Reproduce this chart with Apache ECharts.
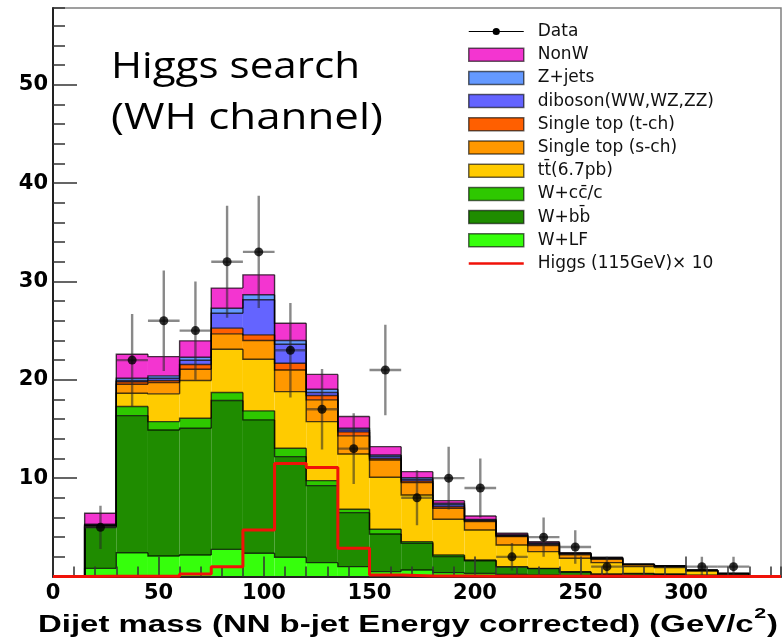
<!DOCTYPE html>
<html>
<head>
<meta charset="utf-8">
<script src="https://cdn.jsdelivr.net/npm/echarts@6/dist/echarts.min.js"></script>
<style>
  html, body { margin: 0; padding: 0; background: #fff; }
  #chart { width: 783px; height: 642px; }
</style>
</head>
<body>
<div id="chart"></div>
<script>
// Dijet mass bins: low edges in GeV/c^2, each 15 GeV wide
const binLow = [15, 30, 45, 60, 75, 90, 105, 120, 135, 150, 165, 180, 195, 210, 225, 240, 255, 270, 285, 300, 315, 330];
const binWidth = 15;
const massMax = 345;

// Expected events per bin, one array per background (bottom of the stack first)
const wLF     = [0.83, 2.42, 2.09, 2.19, 2.76, 2.36, 1.95, 1.41, 1.00, 0.50, 0.66, 0.39, 0.30, 0.20, 0.12, 0.08, 0.05, 0.05, 0.04, 0.02, 0.01, 0.00];
const wBB     = [4.17, 13.94, 12.81, 12.88, 15.13, 13.56, 10.24, 7.83, 5.49, 3.82, 2.71, 1.63, 1.30, 0.75, 0.68, 0.37, 0.17, 0.22, 0.18, 0.08, 0.04, 0.01];
const wCC     = [0.05, 0.92, 0.85, 1.02, 0.81, 0.92, 0.85, 0.51, 0.34, 0.48, 0.17, 0.17, 0.08, 0.05, 0.03, 0.04, 0.03, 0.03, 0.03, 0.02, 0.01, 0.00];
const ttbar   = [0.07, 1.35, 2.82, 3.83, 4.41, 5.25, 5.76, 6.00, 5.62, 5.29, 4.75, 3.63, 3.05, 2.20, 1.70, 1.36, 1.16, 0.70, 0.67, 0.43, 0.16, 0.02];
const stopS   = [0.05, 0.92, 1.15, 1.15, 1.56, 1.90, 2.20, 2.21, 1.85, 1.76, 1.25, 1.12, 0.85, 0.85, 0.62, 0.35, 0.34, 0.18, 0.10, 0.06, 0.06, 0.01];
const stopT   = [0.03, 0.25, 0.20, 0.48, 0.58, 0.58, 0.68, 0.44, 0.40, 0.15, 0.17, 0.16, 0.08, 0.07, 0.10, 0.07, 0.07, 0.03, 0.03, 0.02, 0.02, 0.005];
const diboson = [0.05, 0.12, 0.24, 0.44, 1.52, 3.56, 1.94, 0.30, 0.20, 0.20, 0.17, 0.20, 0.06, 0.06, 0.10, 0.06, 0.05, 0.02, 0.02, 0.01, 0.01, 0.005];
const zJets   = [0.06, 0.24, 0.24, 0.30, 0.51, 0.51, 0.37, 0.34, 0.17, 0.16, 0.17, 0.14, 0.09, 0.06, 0.07, 0.04, 0.04, 0.02, 0.02, 0.01, 0.01, 0.00];
const nonW    = [1.12, 2.44, 1.96, 1.67, 2.04, 2.03, 1.76, 1.51, 1.19, 0.84, 0.61, 0.27, 0.34, 0.15, 0.12, 0.05, 0.04, 0.02, 0.01, 0.01, 0.00, 0.00];

// Observed events and their uncertainties
const dataCounts = [5, 22, 26, 25, 32, 33, 23, 17, 13, 21, 8, 10, 9, 2, 4, 3, 1, 0, 0, 1, 1, 0];
const dataErrors = [2.2, 4.7, 5.1, 5.0, 5.7, 5.7, 4.8, 4.1, 3.6, 4.6, 2.8, 3.2, 3.0, 1.4, 2.0, 1.7, 1.0, 0, 0, 1.0, 1.0, 0];

// Higgs signal (115 GeV) scaled by 10
const higgsX10 = [0.02, 0.02, 0.03, 0.25, 1.0, 4.73, 11.5, 11.07, 2.87, 0.15, 0.05, 0.04, 0.03, 0.03, 0.02, 0.02, 0.02, 0.01, 0.01, 0.01, 0.01, 0.01];

const OUTLINE = 'rgba(0,0,0,0.72)';

// Stack order, bottom to top
const stack = [
  { name: 'W+LF',               values: wLF,     color: '#36ff0c' },
  { name: 'W+bb\u0304',         values: wBB,     color: '#1f8c00' },
  { name: 'W+cc\u0304/c',       values: wCC,     color: '#2ec800' },
  { name: 'tt\u0304(6.7pb)',    values: ttbar,   color: '#ffcb00' },
  { name: 'Single top (s-ch)',  values: stopS,   color: '#ff9800' },
  { name: 'Single top (t-ch)',  values: stopT,   color: '#ff5f00' },
  { name: 'diboson(WW,WZ,ZZ)',  values: diboson, color: '#6464ff' },
  { name: 'Z+jets',             values: zJets,   color: '#6499ff' },
  { name: 'NonW',               values: nonW,    color: '#f335d0' }
];
const higgsName = 'Higgs (115GeV)\u00d7 10';
const higgsColor = '#f01208';

// cumulative bounds of each layer
let running = binLow.map(() => 0);
const stackSeries = stack.map((comp) => {
  const lower = running.slice();
  const upper = running.map((v, j) => v + comp.values[j]);
  running = upper;
  const data = binLow.map((x, j) => [
    x, x + binWidth, lower[j], upper[j],
    j > 0 ? upper[j - 1] : 0,
    j === binLow.length - 1 ? 1 : 0
  ]);
  return {
    type: 'custom',
    name: comp.name,
    color: comp.color,
    itemStyle: { color: comp.color },
    clip: true,
    encode: { x: [0, 1], y: [2, 3] },
    data: data,
    renderItem: function (params, api) {
      const x0 = api.value(0), x1 = api.value(1);
      const lo = api.value(2), hi = api.value(3);
      const prev = api.value(4), last = api.value(5);
      const a = api.coord([x0, hi]);
      const b = api.coord([x1, lo]);
      const p = api.coord([x0, prev]);
      const base = api.coord([x1, 0]);
      const children = [
        { type: 'rect', z2: 0,
          shape: { x: a[0], y: a[1], width: b[0] - a[0], height: b[1] - a[1] },
          style: { fill: comp.color } },
        { type: 'polyline', z2: 10,
          shape: { points: [p, a, [b[0], a[1]]] },
          style: { stroke: OUTLINE, lineWidth: 1.4, fill: null } }
      ];
      if (last) {
        children.push({ type: 'line', z2: 10,
          shape: { x1: b[0], y1: a[1], x2: b[0], y2: base[1] },
          style: { stroke: OUTLINE, lineWidth: 1.4 } });
      }
      return { type: 'group', children: children };
    }
  };
});

// data points with error bars (empty bins are not drawn)
const dataBars = [];
const dataPoints = [];
binLow.forEach((x, j) => {
  if (dataCounts[j] > 0) {
    dataBars.push([x, x + binWidth, dataCounts[j], dataErrors[j]]);
    dataPoints.push([x + binWidth / 2, dataCounts[j]]);
  }
});

const higgsLine = [[0, 0]].concat(binLow.map((x, j) => [x, higgsX10[j]]));
higgsLine.push([massMax, higgsX10[higgsX10.length - 1]]);

// text measurement for the stretched titles
const measureCtx = document.createElement('canvas').getContext('2d');
function textWidth(str, font) { measureCtx.font = font; return measureCtx.measureText(str).width; }

const titleFont = '37px "Open Sans"';
const titleLine1 = 'Higgs search';
const titleLine2 = '(WH channel)';
const sx1 = 249 / textWidth(titleLine1, titleFont);
const sx2 = 272 / textWidth(titleLine2, titleFont);

const axisFont = 'bold 23px "Liberation Sans"';
const supFont = 'bold 15px "Liberation Sans"';
const axisMain = 'Dijet mass (NN b-jet Energy corrected) (GeV/c';
const wMain = textWidth(axisMain, axisFont);
const wSup = textWidth('2', supFont);
const wClose = textWidth(')', axisFont);
const axisScale = 740 / (wMain + wSup + wClose + 1);

const labelStyle = { fontFamily: 'DejaVu Sans', fontWeight: 'bold', fontSize: 21, color: '#000' };
const tickStyle = { color: '#333', width: 1.5 };

const legendData = [
  { name: 'Data', icon: 'path://M0,3.1H55V4.3H0Z M23.9,3.7A3.6,3.6 0 1 1 31.1,3.7A3.6,3.6 0 1 1 23.9,3.7Z',
    itemStyle: { color: '#000', borderWidth: 0 } }
];
stack.slice().reverse().forEach((comp) => {
  legendData.push({ name: comp.name, icon: 'rect',
    itemStyle: { color: comp.color, borderColor: 'rgba(0,0,0,0.6)', borderWidth: 1.5 } });
});
legendData.push({ name: higgsName, icon: 'path://M0,0H55V2.6H0Z',
  itemStyle: { color: higgsColor, borderWidth: 0 } });

const chart = echarts.init(document.getElementById('chart'), null, { renderer: 'canvas' });
chart.setOption({
  animation: false,
  backgroundColor: '#fff',
  grid: {
    left: 53, top: 8, width: 728, height: 568.5,
    show: true, borderColor: '#808080', borderWidth: 1.5,
    containLabel: false, outerBoundsMode: 'none'
  },
  legend: {
    orient: 'vertical', left: 463, top: 18,
    itemWidth: 55, itemHeight: 13, itemGap: 6.2,
    symbolKeepAspect: true,
    selectedMode: false,
    textStyle: { fontFamily: 'DejaVu Sans', fontSize: 17, color: '#111', lineHeight: 14, padding: [0, 0, 0, 9] },
    data: legendData
  },
  xAxis: [
    {
      type: 'value', min: 0, max: massMax, interval: 50, z: 10,
      axisLine: { show: true, onZero: false, lineStyle: { color: '#222', width: 2 } },
      axisTick: { show: true, inside: true, length: 20, lineStyle: tickStyle },
      axisLabel: Object.assign({ margin: 7, showMaxLabel: false }, labelStyle),
      splitLine: { show: false }
    },
    {
      type: 'value', min: 0, max: massMax, interval: 10, position: 'bottom', z: 10,
      axisLine: { show: false },
      axisTick: { show: true, inside: true, length: 10, lineStyle: tickStyle },
      axisLabel: { show: false },
      splitLine: { show: false }
    }
  ],
  yAxis: [
    {
      type: 'value', min: 0, max: 57.8, interval: 10, z: 10,
      axisLine: { show: true, onZero: false, lineStyle: { color: '#222', width: 2 } },
      axisTick: { show: true, inside: true, length: 24, lineStyle: tickStyle },
      axisLabel: Object.assign({ margin: 5, showMinLabel: false, showMaxLabel: false }, labelStyle),
      splitLine: { show: false }
    },
    {
      type: 'value', min: 0, max: 57.8, interval: 2, position: 'left', z: 10,
      axisLine: { show: false },
      axisTick: { show: true, inside: true, length: 12, lineStyle: tickStyle },
      axisLabel: { show: false },
      splitLine: { show: false }
    }
  ],
  series: stackSeries.concat([
    {
      type: 'custom', name: 'Data', z: 5, clip: true,
      itemStyle: { color: '#000' },
      encode: { x: [0, 1], y: 2 },
      data: dataBars,
      renderItem: function (params, api) {
        const x0 = api.value(0), x1 = api.value(1), n = api.value(2), e = api.value(3);
        const xc = (x0 + x1) / 2;
        const top = api.coord([xc, n + e]), bot = api.coord([xc, n - e]);
        const l = api.coord([x0, n]), r = api.coord([x1, n]);
        const st = { stroke: 'rgba(40,40,40,0.55)', lineWidth: 2.4 };
        return { type: 'group', children: [
          { type: 'line', shape: { x1: top[0], y1: top[1], x2: bot[0], y2: bot[1] }, style: st },
          { type: 'line', shape: { x1: l[0], y1: l[1], x2: r[0], y2: r[1] }, style: st }
        ] };
      }
    },
    {
      type: 'scatter', name: 'Data', z: 6,
      symbol: 'circle', symbolSize: 9,
      itemStyle: { color: '#000' },
      data: dataPoints
    },
    {
      type: 'line', name: higgsName, z: 12, step: 'end', clip: false,
      symbol: 'none', color: higgsColor,
      itemStyle: { color: higgsColor },
      lineStyle: { color: higgsColor, width: 3 },
      data: higgsLine
    }
  ]),
  graphic: [
    { type: 'text', x: 111, y: 67, scaleX: sx1,
      style: { text: titleLine1, font: titleFont, fill: '#000', verticalAlign: 'middle', align: 'left' } },
    { type: 'text', x: 111, y: 118.5, scaleX: sx2,
      style: { text: titleLine2, font: titleFont, fill: '#000', verticalAlign: 'middle', align: 'left' } },
    { type: 'group', x: 38, y: 0, scaleX: axisScale, children: [
      { type: 'text', x: 0, y: 626,
        style: { text: axisMain, font: axisFont, fill: '#000', verticalAlign: 'middle', align: 'left' } },
      { type: 'text', x: wMain + 0.5, y: 613.5,
        style: { text: '2', font: supFont, fill: '#000', verticalAlign: 'middle', align: 'left' } },
      { type: 'text', x: wMain + wSup + 1, y: 626,
        style: { text: ')', font: axisFont, fill: '#000', verticalAlign: 'middle', align: 'left' } }
    ] }
  ]
});
</script>
</body>
</html>
